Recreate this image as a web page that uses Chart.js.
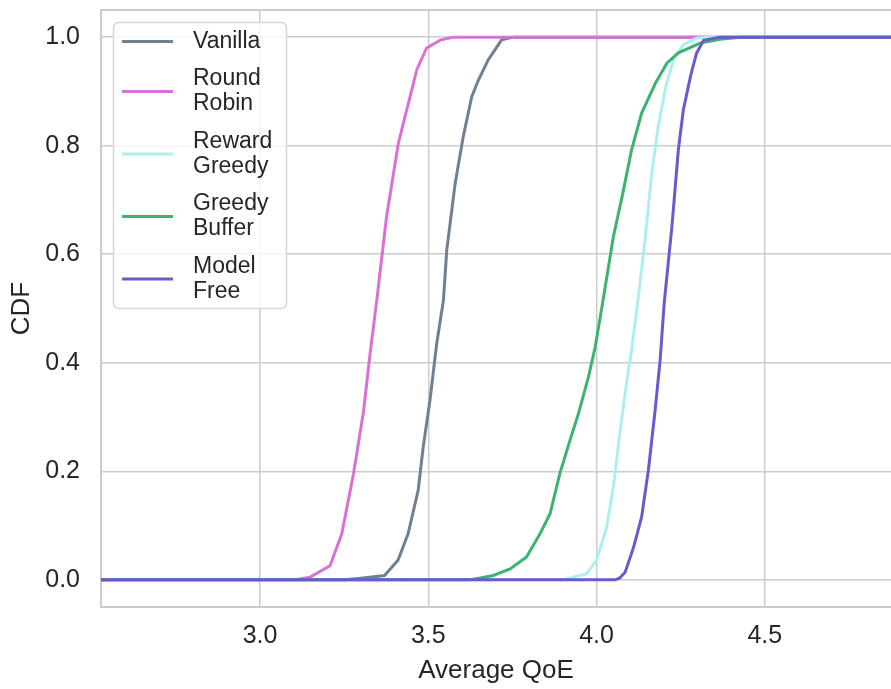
<!DOCTYPE html>
<html>
<head>
<meta charset="utf-8">
<script src="https://cdn.jsdelivr.net/npm/chart.js@4.4.0/dist/chart.umd.min.js"></script>
<style>
  html, body { margin: 0; padding: 0; background: #fff; }
</style>
</head>
<body>
<canvas id="chart" width="891" height="689"></canvas>
<script>
// series (x = average QoE, y = CDF)
const seriesNames = ["Vanilla", "Round\nRobin", "Reward\nGreedy", "Greedy\nBuffer", "Model\nFree"];
const seriesColors = ["#708090", "#da70d6", "#afeeee", "#3cb371", "#6a5acd"];

const vanillaX = [2.50, 3.25, 3.30, 3.37, 3.41, 3.44, 3.47, 3.485, 3.505, 3.525, 3.545, 3.555, 3.58, 3.604, 3.629, 3.649, 3.678, 3.718, 3.753, 4.90];
const vanillaY = [0, 0, 0.003, 0.008, 0.036, 0.085, 0.165, 0.245, 0.331, 0.435, 0.515, 0.608, 0.731, 0.817, 0.890, 0.921, 0.958, 0.995, 1.0, 1.0];

const roundRobinX = [2.50, 3.10, 3.149, 3.208, 3.243, 3.278, 3.308, 3.327, 3.347, 3.376, 3.411, 3.436, 3.466, 3.495, 3.537, 3.576, 4.90];
const roundRobinY = [0, 0, 0.005, 0.026, 0.085, 0.196, 0.312, 0.417, 0.515, 0.669, 0.804, 0.866, 0.940, 0.980, 0.995, 1.0, 1.0];

const rewardGreedyX = [2.50, 3.90, 3.93, 3.970, 4.000, 4.030, 4.050, 4.069, 4.089, 4.104, 4.122, 4.143, 4.163, 4.183, 4.208, 4.230, 4.258, 4.297, 4.33, 4.90];
const rewardGreedyY = [0, 0, 0.005, 0.011, 0.036, 0.097, 0.171, 0.269, 0.362, 0.423, 0.51, 0.620, 0.743, 0.835, 0.915, 0.960, 0.986, 0.998, 1.0, 1.0];

const greedyBufferX = [2.50, 3.62, 3.65, 3.693, 3.743, 3.792, 3.832, 3.862, 3.891, 3.921, 3.946, 3.976, 3.996, 4.018, 4.050, 4.080, 4.104, 4.134, 4.175, 4.209, 4.243, 4.308, 4.367, 4.427, 4.90];
const greedyBufferY = [0, 0, 0.003, 0.008, 0.020, 0.042, 0.085, 0.122, 0.196, 0.257, 0.306, 0.374, 0.429, 0.51, 0.632, 0.718, 0.792, 0.860, 0.915, 0.952, 0.971, 0.989, 0.996, 1.0, 1.0];

const modelFreeX = [2.50, 4.055, 4.068, 4.085, 4.110, 4.134, 4.154, 4.174, 4.189, 4.201, 4.224, 4.243, 4.258, 4.280, 4.297, 4.318, 4.367, 4.90];
const modelFreeY = [0, 0, 0.003, 0.014, 0.060, 0.116, 0.202, 0.312, 0.405, 0.51, 0.651, 0.792, 0.866, 0.930, 0.970, 0.994, 1.0, 1.0];

const xTicks = [3.0, 3.5, 4.0, 4.5];
const yTicks = [0.0, 0.2, 0.4, 0.6, 0.8, 1.0];

const seriesX = [vanillaX, roundRobinX, rewardGreedyX, greedyBufferX, modelFreeX];
const seriesY = [vanillaY, roundRobinY, rewardGreedyY, greedyBufferY, modelFreeY];

const FONT = '"Liberation Sans", Arial, sans-serif';
const TEXT = "#262626";
const GRID = "#cccccc";

// top spine (the axes only draw left and bottom)
const topSpine = {
  id: "topSpine",
  beforeDatasetsDraw(chart) {
    const { ctx, chartArea } = chart;
    ctx.save();
    ctx.strokeStyle = GRID;
    ctx.lineWidth = 2;
    ctx.beginPath();
    ctx.moveTo(chartArea.left, chartArea.top);
    ctx.lineTo(chartArea.right, chartArea.top);
    ctx.stroke();
    ctx.restore();
  },
};

// legend with two-line labels, like matplotlib
const legendBox = {
  id: "legendBox",
  afterDatasetsDraw(chart) {
    const ctx = chart.ctx;
    const x0 = 113, y0 = 22, w = 173, h = 286;
    const lineH = 25, gap = 12.5;
    ctx.save();
    ctx.beginPath();
    ctx.roundRect(x0 + 0.5, y0 + 0.5, w, h, 5);
    ctx.fillStyle = "rgba(255,255,255,0.8)";
    ctx.fill();
    ctx.strokeStyle = "#d6d6d6";
    ctx.lineWidth = 1.5;
    ctx.stroke();
    ctx.font = "23px " + FONT;
    ctx.textBaseline = "middle";
    let y = y0 + 7;
    chart.data.datasets.forEach((ds) => {
      const lines = ds.label.split("\n");
      const hh = lines.length * lineH;
      const cy = y + hh / 2;
      ctx.strokeStyle = ds.borderColor;
      ctx.lineWidth = 3;
      ctx.beginPath();
      ctx.moveTo(122, cy);
      ctx.lineTo(173, cy);
      ctx.stroke();
      ctx.fillStyle = TEXT;
      lines.forEach((t, i) => ctx.fillText(t, 193, y + lineH / 2 + i * lineH));
      y += hh + gap;
    });
    ctx.restore();
  },
};

new Chart(document.getElementById("chart"), {
  type: "line",
  data: {
    datasets: seriesNames.map((name, i) => ({
      label: name,
      data: seriesX[i].map((x, j) => ({ x: x, y: seriesY[i][j] })),
      borderColor: seriesColors[i],
      backgroundColor: seriesColors[i],
      borderWidth: 3,
      pointRadius: 0,
      tension: 0,
      fill: false,
      // later series are drawn over earlier ones, as in the original plot
      order: seriesNames.length - i,
    })),
  },
  options: {
    responsive: false,
    animation: false,
    devicePixelRatio: 1,
    layout: { padding: { top: 10, left: 0, right: 0, bottom: 0 } },
    plugins: {
      legend: { display: false },
      tooltip: { enabled: false },
    },
    scales: {
      x: {
        type: "linear",
        min: 2.5275,
        max: 4.875,
        afterBuildTicks: (axis) => {
          axis.ticks = xTicks.map((v) => ({ value: v }));
        },
        afterFit: (axis) => {
          axis.height = 82;
          axis.paddingLeft = 0;
          axis.paddingRight = 0;
        },
        ticks: {
          padding: 14,
          color: TEXT,
          font: { family: FONT, size: 25 },
          callback: (v) => Number(v).toFixed(1),
        },
        grid: { color: GRID, lineWidth: 1.5, drawTicks: false },
        border: { color: GRID, width: 2 },
        title: {
          display: true,
          text: "Average QoE",
          color: TEXT,
          font: { family: FONT, size: 26 },
          padding: { top: 0, bottom: 3 },
        },
      },
      y: {
        type: "linear",
        min: -0.05,
        max: 1.05,
        afterBuildTicks: (axis) => {
          axis.ticks = yTicks.map((v) => ({ value: v }));
        },
        afterFit: (axis) => {
          axis.width = 101;
          axis.paddingTop = 0;
          axis.paddingBottom = 0;
        },
        ticks: {
          padding: 21,
          color: TEXT,
          font: { family: FONT, size: 25 },
          callback: (v) => Number(v).toFixed(1),
        },
        grid: { color: GRID, lineWidth: 1.5, drawTicks: false },
        border: { color: GRID, width: 2 },
        title: {
          display: true,
          text: "CDF",
          color: TEXT,
          font: { family: FONT, size: 26 },
          padding: { top: 6, bottom: 0 },
        },
      },
    },
  },
  plugins: [topSpine, legendBox],
});
</script>
</body>
</html>
